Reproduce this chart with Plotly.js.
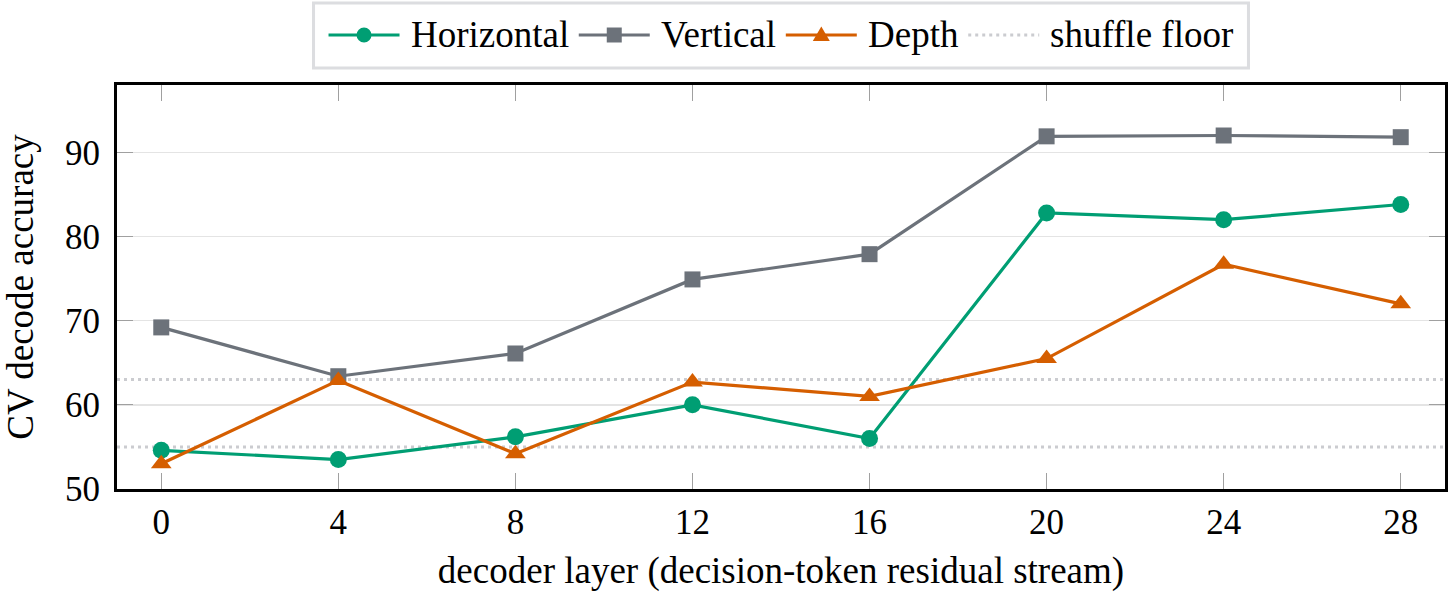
<!DOCTYPE html>
<html>
<head>
<meta charset="utf-8">
<script src="https://cdn.plot.ly/plotly-3.0.1.min.js"></script>
<style>
  html, body { margin: 0; padding: 0; background: #fff; }
  #chart { width: 1450px; height: 592px; }
</style>
</head>
<body>
<div id="chart"></div>
<script>
// Decoder layers probed
const layers = [0, 4, 8, 12, 16, 20, 24, 28];

// Cross-validated decode accuracy (%) per spatial axis
const horizontal = [54.6, 53.5, 56.2, 60.0, 56.0, 82.8, 82.0, 83.8];
const vertical   = [69.2, 63.4, 66.1, 74.9, 77.9, 91.9, 92.0, 91.8];
const depth      = [53.0, 62.9, 54.2, 62.7, 61.0, 65.5, 76.7, 72.0];

// Shuffled-label baselines
const shuffleFloors = [63.0, 55.0];

// Axis extents and ticks
const xRange = [-1, 29];
const yRange = [50, 98];
const xTicks = [0, 4, 8, 12, 16, 20, 24, 28];
const yTicks = [50, 60, 70, 80, 90];

const FONT = 'Liberation Serif, Times New Roman, serif';
const COLORS = { h: '#009E73', v: '#6C727A', d: '#D55E00', floor: '#CBCCD0' };
const FLOOR_DASH = '3px,4px';
const LINE_W = 3.2;

// Figure geometry (pixels)
const W = 1450, H = 592;
const M = { l: 117, r: 5, t: 85, b: 103 };
const plotW = W - M.l - M.r, plotH = H - M.t - M.b;
const px2x = px => (px - M.l) / plotW;
const py2y = py => (H - M.b - py) / plotH;

// One polyline per floor, separated by gaps
const floorX = [];
const floorY = [];
shuffleFloors.forEach((v, i) => {
  if (i > 0) { floorX.push(null); floorY.push(null); }
  floorX.push(xRange[0], xRange[1]);
  floorY.push(v, v);
});

const traces = [
  {
    x: floorX, y: floorY, name: 'shuffle floor', type: 'scatter', mode: 'lines',
    line: { color: COLORS.floor, width: 3, dash: FLOOR_DASH },
    connectgaps: false, hoverinfo: 'skip', showlegend: false
  },
  {
    x: layers, y: horizontal, name: 'Horizontal', type: 'scatter', mode: 'lines+markers',
    line: { color: COLORS.h, width: LINE_W },
    marker: { symbol: 'circle', size: 17, color: COLORS.h }, showlegend: false
  },
  {
    x: layers, y: vertical, name: 'Vertical', type: 'scatter', mode: 'lines+markers',
    line: { color: COLORS.v, width: LINE_W },
    marker: { symbol: 'square', size: 16, color: COLORS.v }, showlegend: false
  },
  {
    x: layers, y: depth, name: 'Depth', type: 'scatter', mode: 'lines+markers',
    line: { color: COLORS.d, width: LINE_W },
    marker: { symbol: 'triangle-up', size: 18, color: COLORS.d }, showlegend: false
  }
];

// ---- Legend: boxed row of line samples with centred markers ----
const legendEntries = [
  { label: 'Horizontal', color: COLORS.h, mark: 'circle' },
  { label: 'Vertical', color: COLORS.v, mark: 'square' },
  { label: 'Depth', color: COLORS.d, mark: 'triangle' },
  { label: 'shuffle floor', color: COLORS.floor, mark: null, dash: FLOOR_DASH }
];
const LEG_FONT = 37;
const measure = (() => {
  const ctx = document.createElement('canvas').getContext('2d');
  ctx.font = LEG_FONT + 'px "Liberation Serif", "Times New Roman", serif';
  return s => ctx.measureText(s).width;
})();

const shapes = [];
const annotations = [];
const legTop = 3, legBottom = 68, legMid = 35;
const sampleLen = 71, sampleGap = 11, entryGap = 10, pad = 15;

// total width first, so the row can be centred over the plot
const entryWidths = legendEntries.map(e => sampleLen + sampleGap + measure(e.label));
const rowW = entryWidths.reduce((a, b) => a + b, 0) + entryGap * (legendEntries.length - 1);
const boxW = rowW + 2 * pad;
const boxL = M.l + plotW / 2 - boxW / 2;

shapes.push({
  type: 'rect', xref: 'paper', yref: 'paper', layer: 'above',
  x0: px2x(boxL), x1: px2x(boxL + boxW), y0: py2y(legBottom), y1: py2y(legTop),
  line: { color: '#DCDDE0', width: 3 }, fillcolor: '#fff'
});

let cx = boxL + pad;
legendEntries.forEach((e, i) => {
  shapes.push({
    type: 'line', xref: 'paper', yref: 'paper', layer: 'above',
    x0: px2x(cx), x1: px2x(cx + sampleLen), y0: py2y(legMid), y1: py2y(legMid),
    line: { color: e.color, width: e.dash ? 3 : LINE_W, dash: e.dash || 'solid' }
  });
  const mx = cx + sampleLen / 2, r = 7.5;
  if (e.mark === 'circle') {
    shapes.push({
      type: 'circle', xref: 'paper', yref: 'paper', layer: 'above',
      x0: px2x(mx - r), x1: px2x(mx + r), y0: py2y(legMid + r), y1: py2y(legMid - r),
      line: { width: 0 }, fillcolor: e.color
    });
  } else if (e.mark === 'square') {
    shapes.push({
      type: 'rect', xref: 'paper', yref: 'paper', layer: 'above',
      x0: px2x(mx - r), x1: px2x(mx + r), y0: py2y(legMid + r), y1: py2y(legMid - r),
      line: { width: 0 }, fillcolor: e.color
    });
  } else if (e.mark === 'triangle') {
    const t = 8.5;
    const p = [[mx, legMid - t], [mx + t, legMid + t * 0.7], [mx - t, legMid + t * 0.7]];
    shapes.push({
      type: 'path', xref: 'paper', yref: 'paper', layer: 'above',
      path: 'M' + p.map(q => px2x(q[0]) + ',' + py2y(q[1])).join('L') + 'Z',
      line: { width: 0 }, fillcolor: e.color
    });
  }
  annotations.push({
    xref: 'paper', yref: 'paper', x: px2x(cx + sampleLen + sampleGap - 2), y: py2y(legMid - 1),
    xanchor: 'left', yanchor: 'middle', showarrow: false, text: e.label,
    font: { family: FONT, size: LEG_FONT, color: '#000' }
  });
  cx += entryWidths[i] + entryGap;
});

const layout = {
  width: W, height: H,
  margin: M,
  paper_bgcolor: '#fff', plot_bgcolor: '#fff',
  font: { family: FONT, color: '#000', size: 35 },
  showlegend: false,
  shapes: shapes,
  annotations: annotations,
  xaxis: {
    range: xRange, tickvals: xTicks, ticktext: xTicks.map(String),
    showgrid: false, zeroline: false,
    showline: true, linecolor: '#000', linewidth: 3, mirror: 'allticks',
    ticks: 'inside', ticklen: 16, tickwidth: 1.3, tickcolor: '#A0A0A0',
    tickfont: { family: FONT, size: 35, color: '#000' },
    title: { text: 'decoder layer (decision-token residual stream)', font: { family: FONT, size: 37, color: '#000' }, standoff: 18 }
  },
  yaxis: {
    range: yRange, tickvals: yTicks, ticktext: yTicks.map(String),
    showgrid: true, gridcolor: '#E4E4E4', gridwidth: 1.5, zeroline: false,
    showline: true, linecolor: '#000', linewidth: 3, mirror: 'allticks',
    ticks: 'inside', ticklen: 16, tickwidth: 1.3, tickcolor: '#A0A0A0',
    ticklabelstandoff: 7,
    tickfont: { family: FONT, size: 35, color: '#000' },
    title: { text: 'CV decode accuracy', font: { family: FONT, size: 37, color: '#000' }, standoff: 30 }
  }
};

Plotly.newPlot('chart', traces, layout, { displayModeBar: false, staticPlot: true });
</script>
</body>
</html>
